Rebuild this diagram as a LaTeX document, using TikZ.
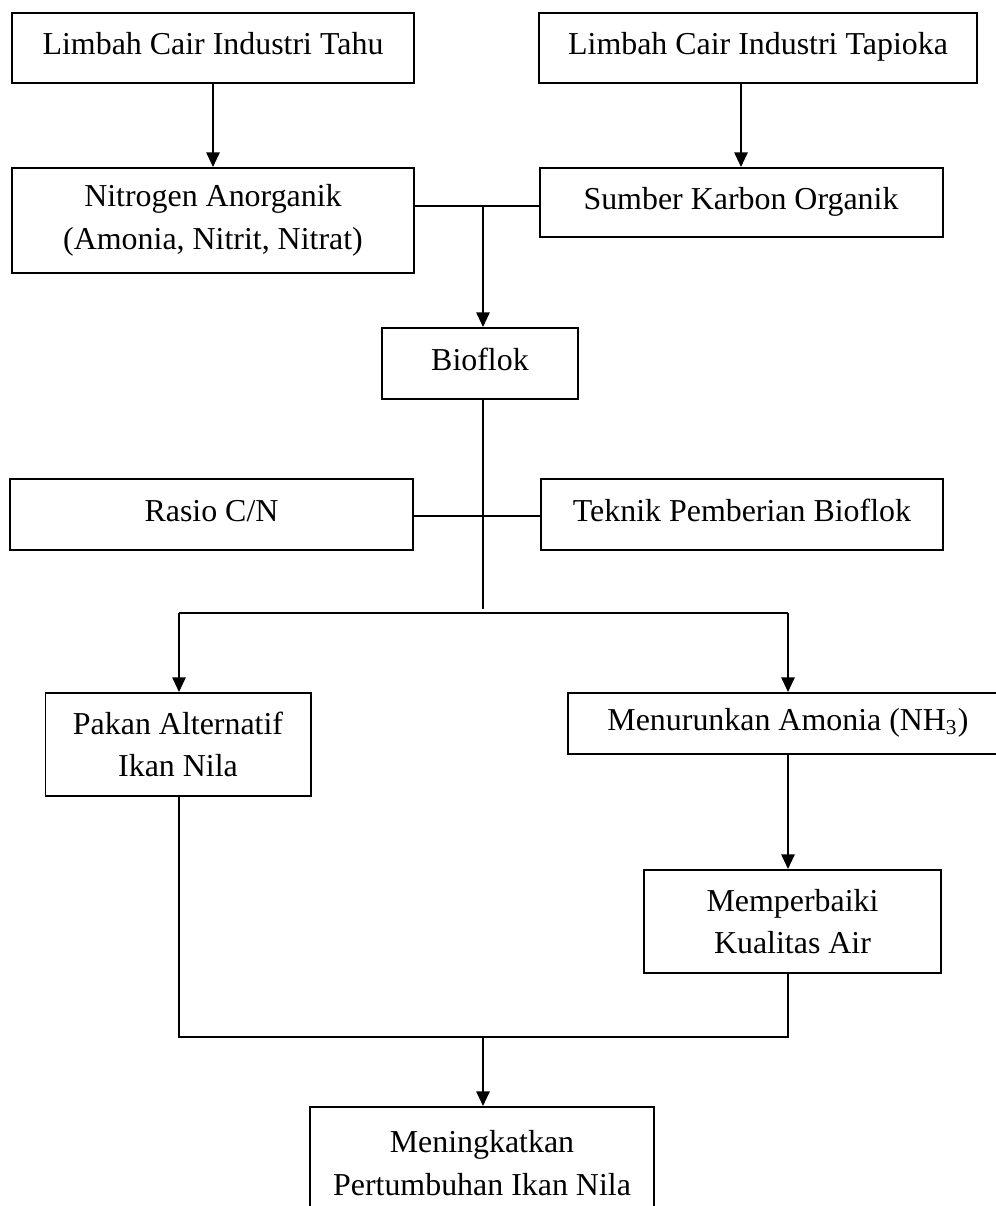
\documentclass[tikz,border=0pt]{standalone}
\usepackage{fontspec}
\setmainfont{Liberation Serif}
\usetikzlibrary{arrows.meta}

\newcommand{\pxu}{0.376pt}

\begin{document}
\begin{tikzpicture}[x=0.376pt, y=-0.376pt,
    box/.style={draw, line width=0.75pt, align=center, inner sep=0pt,
        font=\fontsize{12}{16}\selectfont},
    oneline/.style={box, text height=7.5pt, text depth=2.5pt},
    link/.style={line width=0.7pt},
    arr/.style={line width=0.7pt, -{Triangle[length=5.5pt,width=5pt]}}]
            \useasboundingbox (0,0) rectangle (996,1206);

            % Sources (top row)
            \node[oneline, minimum width=402*\pxu, minimum height=70*\pxu] (tahu) at (213,48) {Limbah Cair Industri Tahu};
            \node[oneline, minimum width=438*\pxu, minimum height=70*\pxu] (tapioka) at (758,48) {Limbah Cair Industri Tapioka};
            \node[box, minimum width=402*\pxu, minimum height=105*\pxu] (nitrogen) at (213,220.5) {Nitrogen Anorganik\\(Amonia, Nitrit, Nitrat)};
            \node[oneline, minimum width=403*\pxu, minimum height=69*\pxu] (karbon) at (741,202.5) {Sumber Karbon Organik};

            % Bioflok and its factors
            \node[oneline, minimum width=196*\pxu, minimum height=71*\pxu] (bioflok) at (480,363.5) {Bioflok};
            \node[oneline, minimum width=403*\pxu, minimum height=71*\pxu] (rasio) at (211.5,514.5) {Rasio C/N};
            \node[oneline, minimum width=402*\pxu, minimum height=71*\pxu] (teknik) at (742,514.5) {Teknik Pemberian Bioflok};

            % Effects
            \node[box, minimum width=265*\pxu, minimum height=103*\pxu] (pakan) at (178,744.5) {Pakan Alternatif\\Ikan Nila};
            \node[oneline, minimum width=440*\pxu, minimum height=61*\pxu] (amonia) at (788,723.5) {Menurunkan Amonia (NH\textsubscript{3})};
            \node[box, minimum width=297*\pxu, minimum height=103*\pxu] (kualitas) at (792.5,921.5) {Memperbaiki\\Kualitas Air};
            \node[box, minimum width=344*\pxu, minimum height=112*\pxu] (tumbuh) at (482,1163) {Meningkatkan\\Pertumbuhan Ikan Nila};

            % Junction points
            \coordinate (j1) at (483,206);
            \coordinate (j2) at (483,516);
            \coordinate (j3) at (483,609);
            \coordinate (bl) at (179,613);
            \coordinate (br) at (788,613);
            \coordinate (cl) at (179,1037);
            \coordinate (cr) at (788,1037);
            \coordinate (cm) at (483,1037);

            % Edges
            \draw[arr] (tahu) -- (nitrogen);
            \draw[arr] (karbon.north |- tapioka.south) -- (karbon.north);
            \draw[link] (nitrogen.east |- j1) -- (karbon.west |- j1);
            \draw[arr] (j1) -- (bioflok.north -| j1);
            \draw[link] (bioflok.south -| j1) -- (j3);
            \draw[link] (rasio.east |- j2) -- (teknik.west |- j2);
            \draw[link] (bl) -- (br);
            \draw[arr] (bl) -- (pakan.north -| bl);
            \draw[arr] (br) -- (amonia.north -| br);
            \draw[arr] (amonia.south -| br) -- (kualitas.north -| br);
            \draw[link] (pakan.south -| cl) -- (cl) -- (cr) -- (kualitas.south -| cr);
            \draw[arr] (cm) -- (tumbuh.north -| cm);
        \end{tikzpicture}
\end{document}
